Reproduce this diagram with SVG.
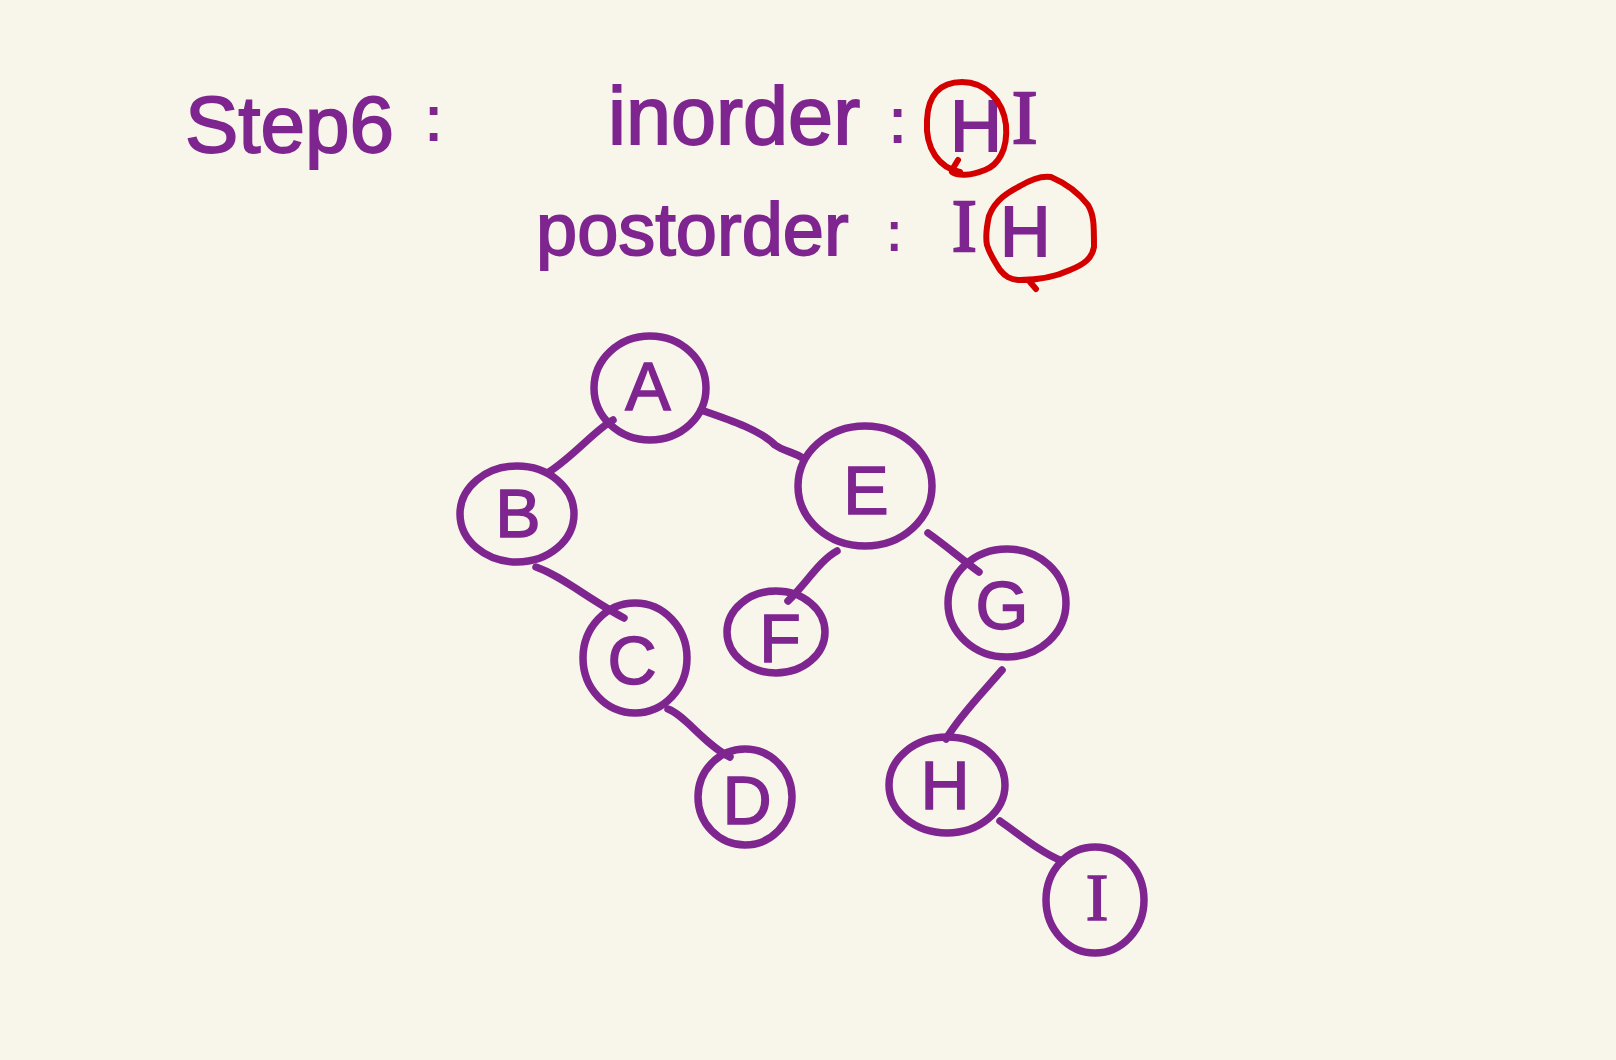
<svg xmlns="http://www.w3.org/2000/svg" width="1616" height="1060" viewBox="0 0 1616 1060">
<style>
.bg{fill:#f8f5ea}
.node ellipse{fill:none;stroke:#7e2590;stroke-width:7.5}
.node text{font-family:"Liberation Sans","DejaVu Sans",sans-serif;font-size:68px;fill:#7e2590;stroke:#7e2590;stroke-width:1.5;text-anchor:middle;dominant-baseline:central}
.node text.serif{font-family:"Liberation Serif","DejaVu Serif",serif}
.edges path{fill:none;stroke:#7e2590;stroke-width:7.5;stroke-linecap:round}
.hd{font-family:"Liberation Sans","DejaVu Sans",sans-serif;fill:#7e2590;stroke:#7e2590;stroke-width:1.8}
.hs{font-family:"Liberation Serif","DejaVu Serif",serif;fill:#7e2590;stroke:#7e2590;stroke-width:2.5}
.red{fill:none;stroke:#d40000;stroke-width:6;stroke-linecap:round;stroke-linejoin:round}
</style>
<rect class="bg" x="0" y="0" width="1616" height="1060"/>
<g id="header">
<text class="hd" x="185" y="152" font-size="80">Step6</text>
<text class="hd" x="425" y="140" font-size="62">:</text>
<text class="hd" x="608" y="144" font-size="81">inorder</text>
<text class="hd" x="889" y="142" font-size="62">:</text>
<text class="hd" x="950" y="151" font-size="72">H</text>
<text class="hs" x="1012" y="143" font-size="76">I</text>
<text class="hd" x="536" y="255" font-size="74">postorder</text>
<text class="hd" x="887" y="250" font-size="52">:</text>
<text class="hs" x="952" y="251" font-size="74">I</text>
<text class="hd" x="1000" y="256" font-size="70">H</text>
<path class="red" d="M960 172 C940 168 925 150 927 120 C928 95 940 82 962 82 C985 82 1003 100 1006 125 C1008 150 998 165 985 170 C970 176 958 176 952 172 M958 160 L952 170"/>
<path class="red" d="M989 216 C995 200 1008 192 1020 186 C1035 177 1045 176 1051 177 C1065 183 1078 192 1088 205 C1094 215 1094 225 1094 247 C1092 258 1085 264 1070 270 C1055 277 1035 280 1020 280 C1010 280 1005 276 1000 270 C995 262 990 255 987 245 C985 235 987 225 989 216 M1030 282 L1036 289"/>
</g>
<g class="edges">
<path d="M613 420 C595 430 575 455 549 472"/>
<path d="M701 410 C730 420 760 430 775 445 C785 452 795 452 804 459"/>
<path d="M536 567 C560 575 590 600 624 618"/>
<path d="M837 551 C820 560 805 585 788 601"/>
<path d="M928 533 C945 545 960 558 979 572"/>
<path d="M668 709 C685 715 705 745 730 757"/>
<path d="M1002 670 C985 690 960 715 946 739"/>
<path d="M1000 821 C1020 835 1040 852 1062 861"/>
</g>
<g id="node-A" class="node"><ellipse cx="650" cy="388" rx="56" ry="52"/><text x="648" y="386">A</text></g>
<g id="node-B" class="node"><ellipse cx="517" cy="514" rx="57" ry="48"/><text x="518" y="513">B</text></g>
<g id="node-E" class="node"><ellipse cx="865" cy="486" rx="67" ry="60"/><text x="866" y="490">E</text></g>
<g id="node-C" class="node"><ellipse cx="635" cy="658" rx="52" ry="55"/><text x="632" y="660">C</text></g>
<g id="node-F" class="node"><ellipse cx="776" cy="632" rx="49" ry="41"/><text x="780" y="638">F</text></g>
<g id="node-G" class="node"><ellipse cx="1007" cy="603" rx="59" ry="54"/><text x="1002" y="605">G</text></g>
<g id="node-D" class="node"><ellipse cx="745" cy="797" rx="47" ry="48"/><text x="747" y="800">D</text></g>
<g id="node-H" class="node"><ellipse cx="947" cy="785" rx="58" ry="48"/><text x="945" y="785">H</text></g>
<g id="node-I" class="node"><ellipse cx="1095" cy="900" rx="49" ry="53"/><text class="serif" x="1097" y="897">I</text></g>
</svg>
